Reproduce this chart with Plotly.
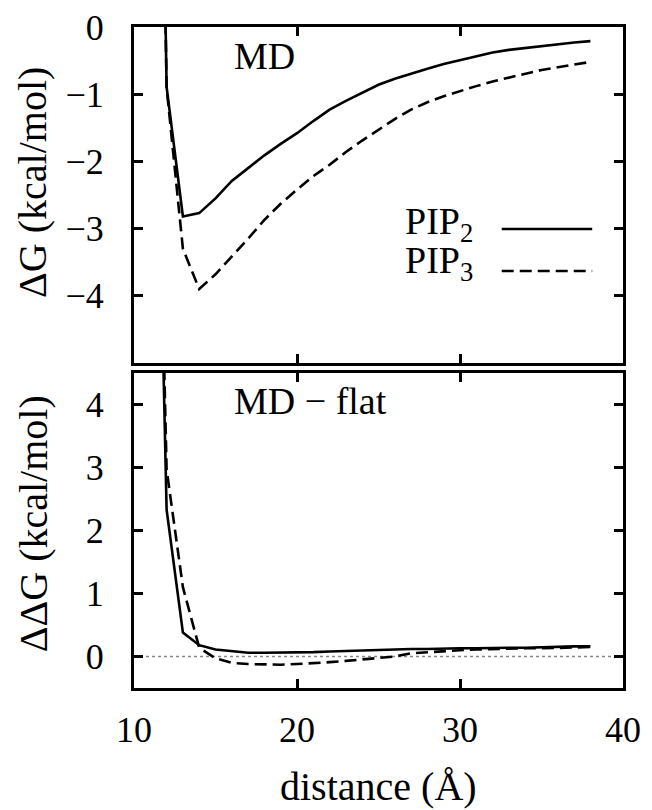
import plotly.graph_objects as go
from plotly.subplots import make_subplots

distance = [11, 12, 13, 14, 15, 16, 17, 18, 19, 20, 21, 22, 23, 24, 25,
            26, 27, 28, 29, 30, 31, 32, 33, 34, 35, 36, 37, 38]

# MD free energy (top panel)
dg_pip2 = [14.0, -0.89, -2.82, -2.77, -2.55, -2.29, -2.10, -1.91, -1.74, -1.58,
           -1.40, -1.23, -1.10, -0.98, -0.86, -0.77, -0.69, -0.62, -0.55, -0.49,
           -0.43, -0.38, -0.34, -0.31, -0.28, -0.25, -0.23, -0.21]
dg_pip3 = [14.0, -0.90, -3.30, -3.90, -3.68, -3.42, -3.15, -2.87, -2.63, -2.42,
           -2.22, -2.05, -1.86, -1.69, -1.53, -1.37, -1.23, -1.12, -1.03, -0.95,
           -0.88, -0.81, -0.75, -0.69, -0.64, -0.60, -0.56, -0.52]

# MD - flat (bottom panel)
ddg_pip2 = [14.0, 2.33, 0.38, 0.18, 0.11, 0.08, 0.06, 0.06, 0.06, 0.06,
            0.07, 0.08, 0.09, 0.10, 0.11, 0.11, 0.12, 0.12, 0.13, 0.13,
            0.13, 0.14, 0.14, 0.14, 0.15, 0.15, 0.16, 0.16]
ddg_pip3 = [14.0, 2.97, 1.10, 0.14, -0.03, -0.10, -0.12, -0.13, -0.13, -0.12,
            -0.11, -0.09, -0.07, -0.05, -0.03, 0.00, 0.05, 0.07, 0.09, 0.10,
            0.11, 0.12, 0.12, 0.13, 0.13, 0.14, 0.15, 0.15]

series_names = ["PIP<sub>2</sub>", "PIP<sub>3</sub>"]
x_ticks = [10, 20, 30, 40]
top_ticks = [0, -1, -2, -3, -4]
bottom_ticks = [0, 1, 2, 3, 4]

FONT = "Liberation Serif, Times New Roman, DejaVu Serif, serif"
dash_style = "12px,6px"
LW = 2.6

fig = make_subplots(rows=2, cols=1, shared_xaxes=False, vertical_spacing=0.015,
                    row_heights=[336, 315])

fig.add_trace(go.Scatter(x=distance, y=dg_pip2, mode="lines", name=series_names[0],
                         line=dict(color="black", width=LW)), row=1, col=1)
fig.add_trace(go.Scatter(x=distance, y=dg_pip3, mode="lines", name=series_names[1],
                         line=dict(color="black", width=LW, dash=dash_style)), row=1, col=1)
fig.add_trace(go.Scatter(x=distance, y=ddg_pip2, mode="lines", showlegend=False,
                         line=dict(color="black", width=LW)), row=2, col=1)
fig.add_trace(go.Scatter(x=distance, y=ddg_pip3, mode="lines", showlegend=False,
                         line=dict(color="black", width=LW, dash=dash_style)), row=2, col=1)

axis_common = dict(showline=True, mirror="ticks", linecolor="black", linewidth=3,
                   ticks="inside", ticklen=9, tickwidth=2.5, tickcolor="black",
                   showgrid=False, zeroline=False, automargin=False,
                   tickfont=dict(family=FONT, size=36, color="black"))

fig.update_xaxes(range=[10, 40], tickvals=x_ticks, showticklabels=False,
                 row=1, col=1, **axis_common)
fig.update_xaxes(range=[10, 40], tickvals=x_ticks, ticklabelstandoff=8,
                 row=2, col=1, **axis_common)
fig.update_yaxes(range=[-5, 0], tickvals=top_ticks, ticklabelstandoff=20,
                 row=1, col=1, **axis_common)
fig.update_yaxes(range=[-0.5, 4.5], tickvals=bottom_ticks, ticklabelstandoff=20,
                 row=2, col=1, **axis_common)

fig.update_layout(
    yaxis=dict(domain=[0.4917, 1.0]),
    yaxis2=dict(domain=[0.0, 0.4766]),
)

# dotted zero line in bottom panel
fig.add_shape(type="line", xref="x2 domain", yref="y2", x0=0, x1=1, y0=0, y1=0,
              line=dict(color="#888888", width=1.5, dash="dot"), layer="below")

# legend (text left, sample right, gnuplot style): (text y, line y) in domain units
legend_rows = [(0.414, 0.399, "solid"), (0.298, 0.274, dash_style)]
for (ty, ly, dsh), name in zip(legend_rows, series_names):
    fig.add_annotation(xref="x domain", yref="y domain", x=0.697, y=ty,
                       xanchor="right", yanchor="middle", showarrow=False,
                       text=name, font=dict(family=FONT, size=38, color="black"))
    fig.add_shape(type="line", xref="x domain", yref="y domain",
                  x0=0.752, x1=0.937, y0=ly, y1=ly,
                  line=dict(color="black", width=LW, dash=dsh))

fig.add_annotation(xref="x domain", yref="y domain", x=0.2, y=0.915,
                   xanchor="left", yanchor="middle", showarrow=False, text="MD",
                   font=dict(family=FONT, size=38, color="black"))
fig.add_annotation(xref="x2 domain", yref="y2 domain", x=0.2, y=0.91,
                   xanchor="left", yanchor="middle", showarrow=False, text="MD − flat",
                   font=dict(family=FONT, size=38, color="black"))

# axis titles
fig.add_annotation(xref="paper", yref="y domain", x=0, y=0.536, xshift=-101,
                   xanchor="center", yanchor="middle", textangle=-90, showarrow=False,
                   text="ΔG (kcal/mol)", font=dict(family=FONT, size=40, color="black"))
fig.add_annotation(xref="paper", yref="y2 domain", x=0, y=0.52, xshift=-101,
                   xanchor="center", yanchor="middle", textangle=-90, showarrow=False,
                   text="ΔΔG (kcal/mol)", font=dict(family=FONT, size=40, color="black"))
fig.add_annotation(xref="x2 domain", yref="paper", x=0.5, y=0, yshift=-98,
                   xanchor="center", yanchor="middle", showarrow=False,
                   text="distance (Å)", font=dict(family=FONT, size=40, color="black"))

fig.update_layout(width=652, height=810, showlegend=False,
                  margin=dict(l=134, r=29, t=27, b=122),
                  paper_bgcolor="white", plot_bgcolor="white")

fig.write_html("out.html")
